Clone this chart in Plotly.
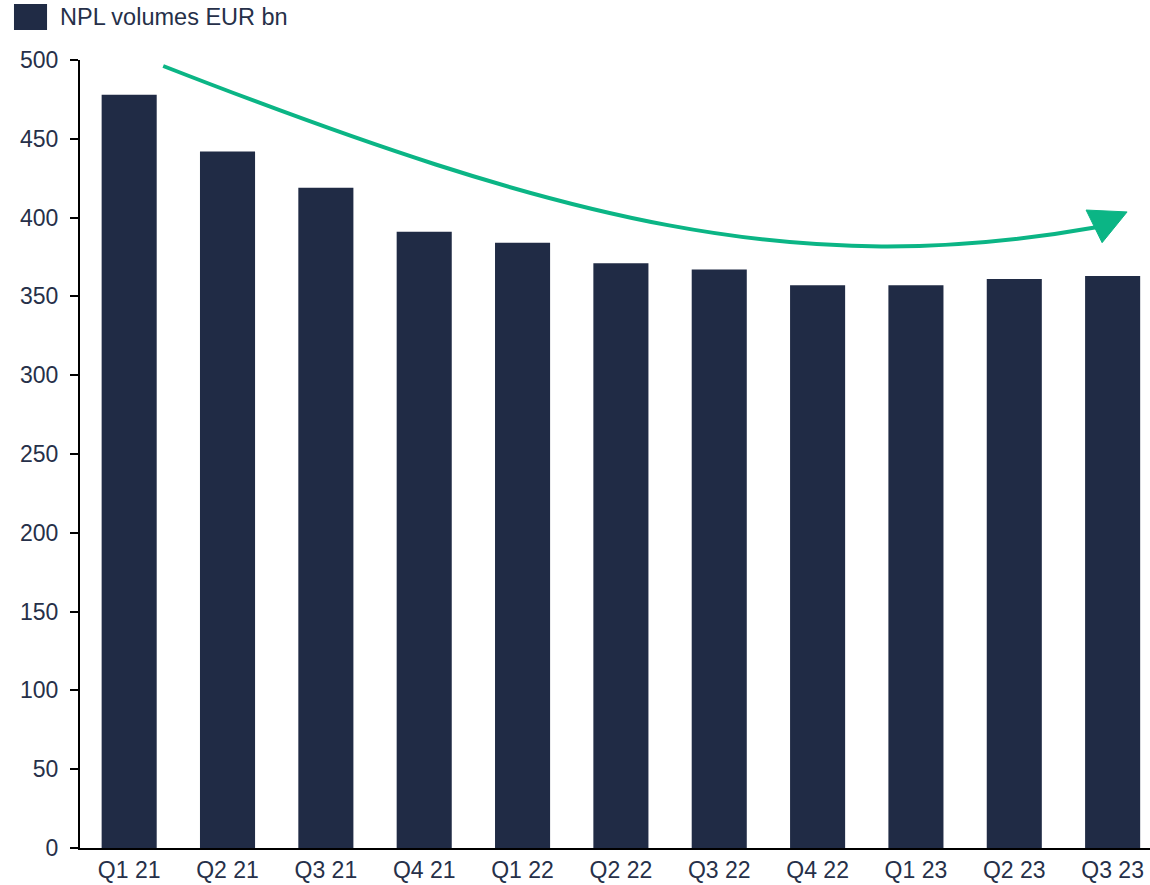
import plotly.graph_objects as go

categories = ["Q1 21", "Q2 21", "Q3 21", "Q4 21", "Q1 22", "Q2 22",
              "Q3 22", "Q4 22", "Q1 23", "Q2 23", "Q3 23"]
npl_volumes = [478, 442, 419, 391, 384, 371, 367, 357, 357, 361, 363]
y_ticks = [0, 50, 100, 150, 200, 250, 300, 350, 400, 450, 500]
series_name = "NPL volumes EUR bn"

# trend arrow (decorative), in data coordinates: bezier control points and head
arrow_curve = [(0.346, 496.2), (4.413, 397.2), (6.792, 360.0), (9.850, 394.0)]
arrow_head = [(9.730, 404.8), (10.147, 403.6), (9.893, 384.1)]

BAR = "#202b45"
TEXT = "#263049"
GREEN = "#0bb585"
FONT = "Liberation Sans, Arial, sans-serif"

x_idx = list(range(len(categories)))

fig = go.Figure()
fig.add_trace(go.Bar(
    x=x_idx, y=npl_volumes, name=series_name,
    marker=dict(color=BAR, line=dict(width=0)),
    width=0.56, showlegend=False, hoverinfo="y",
))

(p0, p1, p2, p3) = arrow_curve
path = (f"M {p0[0]},{p0[1]} C {p1[0]},{p1[1]} {p2[0]},{p2[1]} {p3[0]},{p3[1]}")
fig.add_shape(type="path", path=path, xref="x", yref="y",
              line=dict(color=GREEN, width=4), layer="above")
h = arrow_head
head_path = f"M {h[0][0]},{h[0][1]} L {h[1][0]},{h[1][1]} L {h[2][0]},{h[2][1]} Z"
fig.add_shape(type="path", path=head_path, xref="x", yref="y",
              fillcolor=GREEN, line=dict(color=GREEN, width=1), layer="above")

# manual legend
fig.add_shape(type="rect", xref="paper", yref="paper",
              x0=-0.0617, x1=-0.0308, y0=1.0381, y1=1.0711,
              fillcolor=BAR, line=dict(width=0))
fig.add_annotation(xref="paper", yref="paper", x=-0.0206, y=1.0546,
                   text=series_name, showarrow=False, xanchor="left",
                   yanchor="middle", font=dict(size=23.5, color=TEXT, family=FONT))

fig.update_layout(
    width=1150, height=885,
    margin=dict(l=80, r=0, t=60, b=37),
    paper_bgcolor="white", plot_bgcolor="white",
    font=dict(family=FONT, size=23, color=TEXT),
)
fig.update_xaxes(
    tickvals=x_idx, ticktext=categories, range=[-0.5, 10.38],
    showline=True, linecolor="black", linewidth=2,
    ticks="", showgrid=False, zeroline=False,
    tickfont=dict(size=23, color=TEXT),
)
fig.update_yaxes(
    range=[0, 500], tickvals=y_ticks,
    showline=True, linecolor="black", linewidth=2,
    ticks="outside", ticklen=8, tickwidth=2, tickcolor="black",
    ticklabelstandoff=7,
    showgrid=False, zeroline=False,
    tickfont=dict(size=23, color=TEXT),
)

fig.write_html("out.html", config={"displayModeBar": False},
               post_script="document.body.style.margin='0';document.body.style.overflow='hidden';")
